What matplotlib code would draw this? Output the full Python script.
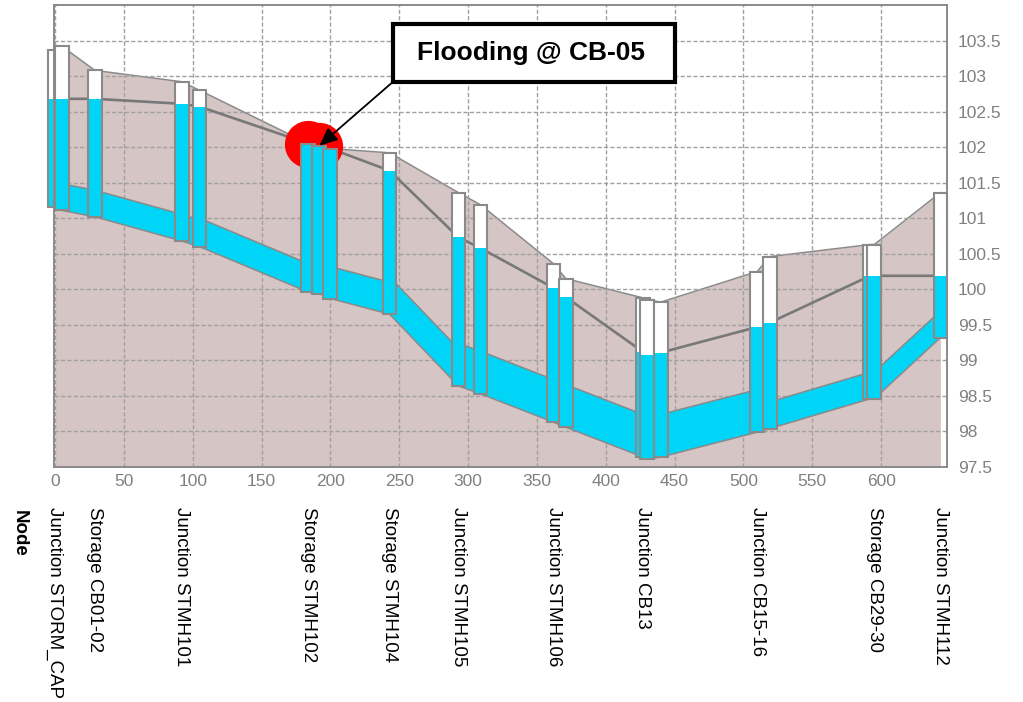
import matplotlib
matplotlib.use("Agg")
import matplotlib.pyplot as plt
from matplotlib.patches import Rectangle, Polygon
from matplotlib.ticker import FormatStrFormatter, FuncFormatter
from matplotlib.transforms import blended_transform_factory

plt.rcParams['font.family'] = ['Liberation Sans', 'DejaVu Sans']

# ---- profile data (station along the path, elevations in m) ----
node_station = [0, 5, 29, 92, 105, 184, 192, 200, 243, 293, 309,
                362, 371, 427, 430, 440, 510, 519, 592, 595, 643]
node_invert = [101.16, 101.11, 101.02, 100.68, 100.60, 99.96, 99.94, 99.87, 99.65,
               98.64, 98.53, 98.13, 98.06, 97.64, 97.61, 97.64, 97.99, 98.04,
               98.46, 98.46, 99.32]
node_rim = [103.36, 103.42, 103.08, 102.92, 102.80, 102.05, 102.02, 101.98, 101.92,
            101.36, 101.19, 100.36, 100.15, 99.88, 99.85, 99.82, 100.25, 100.46,
            100.63, 100.63, 101.36]
node_hgl = [102.68, 102.68, 102.68, 102.61, 102.57, 102.05, 102.02, 101.98, 101.67,
            100.73, 100.58, 100.02, 99.89, 99.12, 99.08, 99.11, 99.47, 99.53,
            100.19, 100.19, 100.19]
node_names = ["Junction STORM_CAP", "", "Storage CB01-02", "Junction STMH101", "",
              "Storage STMH102", "", "", "Storage STMH104", "Junction STMH105", "",
              "Junction STMH106", "", "Junction CB13", "", "", "Junction CB15-16", "",
              "", "Storage CB29-30", "Junction STMH112"]
# conduit heights for the links between consecutive nodes
conduit_height = [0.375, 0.375, 0.375, 0.375, 0.40, 0.45, 0.45, 0.45, 0.525, 0.60,
                  0.60, 0.60, 0.60, 0.60, 0.60, 0.60, 0.60, 0.375, 0.375, 0.375]
flooded_nodes = [5, 6]

x_ticks = [0, 50, 100, 150, 200, 250, 300, 350, 400, 450, 500, 550, 600]
y_ticks = [97.5, 98, 98.5, 99, 99.5, 100, 100.5, 101, 101.5, 102, 102.5, 103, 103.5]

annotation_text = "Flooding @ CB-05"

# ---- styling ----
GROUND = '#d6c5c5'
WATER = '#00d5f7'
EDGE = '#8a8a8a'
HGL = '#787878'
TICK = '#808080'
BOX_HALF = 5.0

fig = plt.figure(figsize=(10.23, 7.02), dpi=100)
ax = fig.add_axes([54 / 1023, 1 - 467 / 702, (947 - 54) / 1023, (467 - 5) / 702])
ax.set_xlim(-0.7, 647.8)
ax.set_ylim(97.5, 104.0)

# ground surface
ax.fill_between(node_station, node_rim, 97.0, color=GROUND, lw=0, zorder=1)
ax.plot(node_station, node_rim, color=EDGE, lw=1.1, zorder=1.6)

# grid
ax.set_axisbelow(False)
ax.grid(True, color='#a0a0a0', linestyle=(0, (3, 1.6)), linewidth=1.0)

# conduits
for i, h in enumerate(conduit_height):
    s0, s1 = node_station[i], node_station[i + 1]
    v0, v1 = node_invert[i], node_invert[i + 1]
    poly = Polygon([(s0, v0), (s1, v1), (s1, v1 + h), (s0, v0 + h)], closed=True,
                   facecolor=WATER, edgecolor=EDGE, lw=1.1, zorder=3)
    ax.add_patch(poly)

# hydraulic grade line
ax.plot(node_station, node_hgl, color=HGL, lw=1.9, zorder=3.5,
        solid_joinstyle='round')

# flooding markers
ax.plot([node_station[i] for i in flooded_nodes], [node_rim[i] for i in flooded_nodes],
        'o', ms=34, color='#ff0000', mew=0, zorder=3.8)

# node shafts
for i, s in enumerate(node_station):
    z = 4 + i * 0.01
    x0 = s - BOX_HALF
    ax.add_patch(Rectangle((x0, node_invert[i]), 2 * BOX_HALF,
                           node_rim[i] - node_invert[i], facecolor='white',
                           edgecolor='none', zorder=z, clip_on=False))
    ax.add_patch(Rectangle((x0, node_invert[i]), 2 * BOX_HALF,
                           node_hgl[i] - node_invert[i], facecolor=WATER,
                           edgecolor='none', zorder=z + 0.001, clip_on=False))
    ax.add_patch(Rectangle((x0, node_invert[i]), 2 * BOX_HALF,
                           node_rim[i] - node_invert[i], facecolor='none',
                           edgecolor=EDGE, lw=1.5, zorder=z + 0.002, clip_on=False))

# axes styling
for sp in ax.spines.values():
    sp.set_color(EDGE)
    sp.set_linewidth(1.4)
    sp.set_zorder(6)
ax.set_xticks(x_ticks)
ax.set_yticks(y_ticks)
ax.yaxis.tick_right()
ax.yaxis.set_major_formatter(FuncFormatter(lambda v, p: f"{v:g}"))
ax.tick_params(axis='x', length=0, pad=5, labelsize=12.5, labelcolor=TICK)
ax.tick_params(axis='y', length=0, pad=8, labelsize=12.5, labelcolor=TICK)

# node names under the axis
trans = blended_transform_factory(ax.transData, ax.transAxes)
for s, name in zip(node_station, node_names):
    if name:
        ax.text(s, -0.087, name, transform=trans, rotation=270, ha='center', va='top',
                fontsize=13.5, color='black', clip_on=False)
fig.text(19 / 1023, 1 - 510 / 702, "Node", rotation=270, ha='center', va='top',
         fontsize=13.5, fontweight='bold', color='black')

# flooding call-out
ax.add_patch(Rectangle((245.5, 102.92), 204.7, 0.81, facecolor='white',
                       edgecolor='black', lw=3, zorder=9))
ax.text(346, 103.325, annotation_text, ha='center', va='center', fontsize=19,
        fontweight='bold', color='black', zorder=10)
ax.annotate('', xy=(node_station[6], node_rim[6]), xytext=(245.5, 102.92),
            arrowprops=dict(arrowstyle='-|>,head_length=0.5,head_width=0.22',
                            color='black', lw=1.3, mutation_scale=22,
                            shrinkA=0, shrinkB=0), zorder=10)

fig.savefig('out.png', dpi=100)
